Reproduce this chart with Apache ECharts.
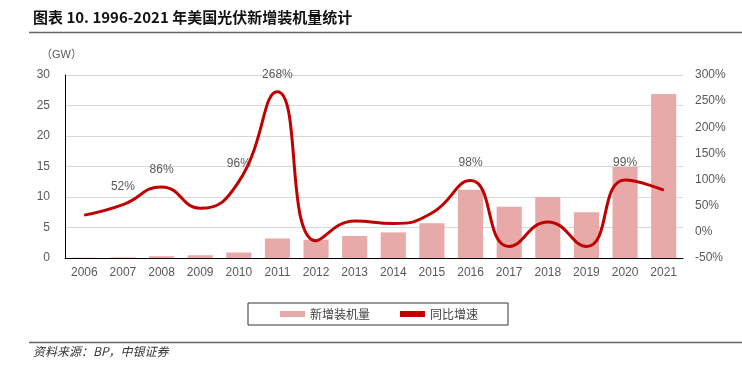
<!DOCTYPE html>
<html><head><meta charset="utf-8">
<script src="https://cdn.jsdelivr.net/npm/echarts@6/dist/echarts.min.js"></script>
<style>html,body{margin:0;padding:0;background:#fff}#c{width:742px;height:371px}</style>
</head><body><div id="c"></div>
<script>
const years = ['2006','2007','2008','2009','2010','2011','2012','2013','2014','2015','2016','2017','2018','2019','2020','2021'];
const newCapacity = [0.05, 0.1, 0.3, 0.45, 0.9, 3.2, 3.0, 3.6, 4.2, 5.7, 11.2, 8.4, 10.0, 7.5, 14.9, 26.9];
const yoyGrowth = [32, 52, 86, 45, 96, 268, -17, 21, 16, 36, 98, -28, 19, -28, 99, 80];
const labeledYears = ['2007','2008','2010','2011','2016','2020'];
const leftTicks = [0, 30, 5];
const rightTicks = [-50, 300, 50];

const font = 'Arial, "Liberation Sans", "Noto Sans CJK SC", sans-serif';
const chart = echarts.init(document.getElementById('c'));
chart.setOption({
  animation: false,
  graphic: [
    {type:'text', left: 33, top: 10, style:{text:'图表 10. 1996-2021 年美国光伏新增装机量统计', font:'bold 15px "Noto Sans CJK SC", sans-serif', fill:'#111'}},
    {type:'line', shape:{x1:29, y1:32.5, x2:742, y2:32.5}, style:{stroke:'#666', lineWidth:1.5}},
    {type:'text', left: 41, top: 49, style:{text:'（GW）', font:'11px ' + font, fill:'#595959'}},
    {type:'line', shape:{x1:29, y1:342.5, x2:742, y2:342.5}, style:{stroke:'#666', lineWidth:1.5}},
    {type:'text', left: 33, top: 345, style:{text:'资料来源：BP，中银证券', font:'italic 12px "Noto Sans CJK SC", sans-serif', fill:'#333'}}
  ],
  grid: {left: 65, right: 59, top: 75, bottom: 113},
  legend: {
    left: 248, top: 303,
    borderColor: '#333', borderWidth: 1, padding: [5, 30, 5, 32],
    itemGap: 30, itemWidth: 25, itemHeight: 6,
    textStyle: {color: '#444', fontSize: 12, fontFamily: '"Noto Sans CJK SC", sans-serif'},
    data: [{name:'新增装机量', icon:'rect', itemStyle:{color:'#e8a9a9'}},
           {name:'同比增速', icon:'rect', itemStyle:{color:'#c00000', opacity:1}}]
  },
  xAxis: {
    type: 'category', data: years,
    axisLine: {lineStyle:{color:'#000', width:1}},
    axisTick: {show:false},
    axisLabel: {color:'#595959', fontSize:12, fontFamily:font, margin:9}
  },
  yAxis: [
    {type:'value', min:leftTicks[0], max:leftTicks[1], interval:leftTicks[2],
     axisLine:{show:true, lineStyle:{color:'#000'}}, axisTick:{show:false},
     axisLabel:{color:'#595959', fontSize:12, fontFamily:font, margin:15},
     splitLine:{lineStyle:{color:'#d9d9d9'}}},
    {type:'value', min:rightTicks[0], max:rightTicks[1], interval:rightTicks[2],
     axisLine:{show:false}, axisTick:{show:false},
     axisLabel:{color:'#595959', fontSize:12, fontFamily:font, margin:12, formatter:'{value}%'},
     splitLine:{show:false}}
  ],
  series: [
    {name:'新增装机量', type:'bar', data:newCapacity, barWidth:'65%',
     itemStyle:{color:'#e8a9a9'}},
    {name:'同比增速', type:'line', yAxisIndex:1,
     data:yoyGrowth.map((v,i)=>({
        value:v,
        label:{show: labeledYears.includes(years[i]), position:'top', distance:11,
               color:'#595959', fontSize:12, fontFamily:font, formatter:'{c}%'}
     })),
     smooth:0.5, symbol:'circle', symbolSize:1, showSymbol:true, showAllSymbol:true,
     lineStyle:{color:'#c00000', width:3}, itemStyle:{color:'#c00000'},
     labelLayout:{hideOverlap:false}}
  ]
});
</script></body></html>
